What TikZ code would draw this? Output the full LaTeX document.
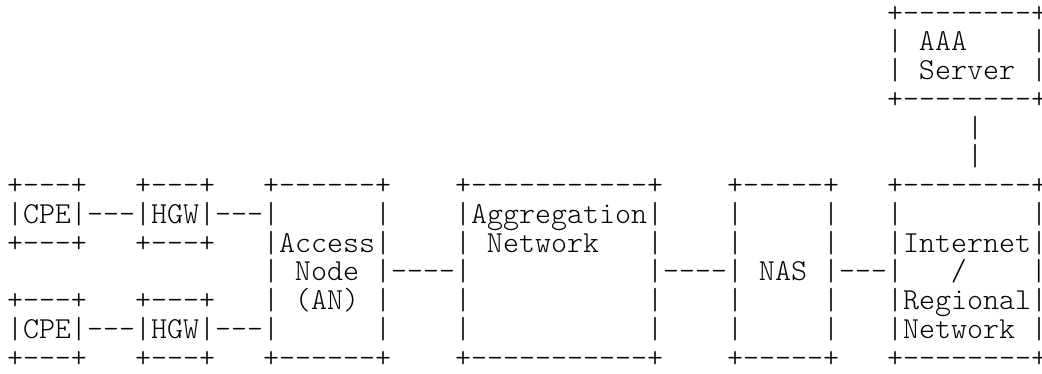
\documentclass[tikz,border=0pt]{standalone}
\usepackage{fontspec}
\setmonofont{Latin Modern Mono Light}
\newlength\chw
\settowidth\chw{\fontsize{30pt}{30pt}\selectfont\ttfamily M}
\pgfmathsetmacro\fsz{30*16/\chw}
\newcommand\pos[2]{({7+16*(#1)},{374-13.5-28.77*((#2)-1)-0.28*\fsz})}
\newcommand\dsh[1]{\foreach \i in {1,...,#1}{{-}}}
\tikzset{
  asc/.style={font=\fontsize{\fsz pt}{\fsz pt}\selectfont\ttfamily,
    inner sep=0pt, outer sep=0pt, anchor=base west, text=black}
}
\begin{document}
\begin{tikzpicture}[x=1pt,y=1pt]
\fill[white] (0,0) rectangle (1042,374);
\useasboundingbox (0,0) rectangle (1042,374);
% AAA server
\node[asc] (aaaT) at \pos{55}{1} {+\dsh{8}+};
\node[asc] (aaa1) at \pos{55}{2} {|~AAA~~~~|};
\node[asc] (aaa2) at \pos{55}{3} {|~Server~|};
\node[asc] (aaaB) at \pos{55}{4} {+\dsh{8}+};
% link AAA - Internet
\node[asc] (lkA1) at \pos{60}{5} {|};
\node[asc] (lkA2) at \pos{60}{6} {|};
% CPE / HGW upper
\node[asc] (cpe1T) at \pos{0}{7} {+\dsh{3}+};
\node[asc] (cpe1) at \pos{0}{8} {|CPE|};
\node[asc] (cpe1B) at \pos{0}{9} {+\dsh{3}+};
\node[asc] (lkC1) at \pos{5}{8} {\dsh{3}};
\node[asc] (hgw1T) at \pos{8}{7} {+\dsh{3}+};
\node[asc] (hgw1) at \pos{8}{8} {|HGW|};
\node[asc] (hgw1B) at \pos{8}{9} {+\dsh{3}+};
\node[asc] (lkH1) at \pos{13}{8} {\dsh{3}};
% CPE / HGW lower
\node[asc] (cpe2T) at \pos{0}{11} {+\dsh{3}+};
\node[asc] (cpe2) at \pos{0}{12} {|CPE|};
\node[asc] (cpe2B) at \pos{0}{13} {+\dsh{3}+};
\node[asc] (lkC2) at \pos{5}{12} {\dsh{3}};
\node[asc] (hgw2T) at \pos{8}{11} {+\dsh{3}+};
\node[asc] (hgw2) at \pos{8}{12} {|HGW|};
\node[asc] (hgw2B) at \pos{8}{13} {+\dsh{3}+};
\node[asc] (lkH2) at \pos{13}{12} {\dsh{3}};
% Access Node
\node[asc] (anT) at \pos{16}{7} {+\dsh{6}+};
\node[asc] (an1L) at \pos{16}{8} {|};
\node[asc] (an1R) at \pos{23}{8} {|};
\node[asc] (an2) at \pos{16}{9} {|Access|};
\node[asc] (an3) at \pos{16}{10} {|~Node~|};
\node[asc] (an4) at \pos{16}{11} {|~(AN)~|};
\node[asc] (an5L) at \pos{16}{12} {|};
\node[asc] (an5R) at \pos{23}{12} {|};
\node[asc] (anB) at \pos{16}{13} {+\dsh{6}+};
\node[asc] (lkAN) at \pos{24}{10} {\dsh{4}};
% Aggregation Network
\node[asc] (agT) at \pos{28}{7} {+\dsh{11}+};
\node[asc] (ag1) at \pos{28}{8} {|Aggregation|};
\node[asc] (ag2) at \pos{28}{9} {|~Network~~~|};
\node[asc] (ag3L) at \pos{28}{10} {|};
\node[asc] (ag3R) at \pos{40}{10} {|};
\node[asc] (ag4L) at \pos{28}{11} {|};
\node[asc] (ag4R) at \pos{40}{11} {|};
\node[asc] (ag5L) at \pos{28}{12} {|};
\node[asc] (ag5R) at \pos{40}{12} {|};
\node[asc] (agB) at \pos{28}{13} {+\dsh{11}+};
\node[asc] (lkAG) at \pos{41}{10} {\dsh{4}};
% NAS
\node[asc] (nasT) at \pos{45}{7} {+\dsh{5}+};
\node[asc] (nas1L) at \pos{45}{8} {|};
\node[asc] (nas1R) at \pos{51}{8} {|};
\node[asc] (nas2L) at \pos{45}{9} {|};
\node[asc] (nas2R) at \pos{51}{9} {|};
\node[asc] (nas3) at \pos{45}{10} {|~NAS~|};
\node[asc] (nas4L) at \pos{45}{11} {|};
\node[asc] (nas4R) at \pos{51}{11} {|};
\node[asc] (nas5L) at \pos{45}{12} {|};
\node[asc] (nas5R) at \pos{51}{12} {|};
\node[asc] (nasB) at \pos{45}{13} {+\dsh{5}+};
\node[asc] (lkNAS) at \pos{52}{10} {\dsh{3}};
% Internet / Regional Network
\node[asc] (inT) at \pos{55}{7} {+\dsh{8}+};
\node[asc] (in1L) at \pos{55}{8} {|};
\node[asc] (in1R) at \pos{64}{8} {|};
\node[asc] (in2) at \pos{55}{9} {|Internet|};
\node[asc] (in3) at \pos{55}{10} {|~~~/~~~~|};
\node[asc] (in4) at \pos{55}{11} {|Regional|};
\node[asc] (in5) at \pos{55}{12} {|Network~|};
\node[asc] (inB) at \pos{55}{13} {+\dsh{8}+};
\end{tikzpicture}
\end{document}
